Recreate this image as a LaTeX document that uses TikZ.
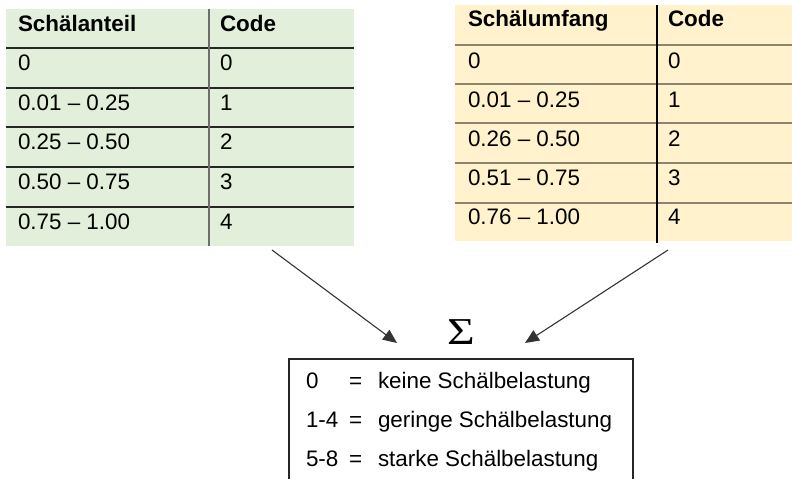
\documentclass[tikz,border=0pt]{standalone}
\usepackage{fontspec}
\setmainfont{Liberation Sans}
\newfontfamily\symserif{Liberation Serif}
\usetikzlibrary{arrows.meta}
\definecolor{greenfill}{HTML}{E2EFDA}
\definecolor{yellowfill}{HTML}{FFF2CC}
\definecolor{rulebrown}{HTML}{8C8470}
\definecolor{rulegray}{HTML}{6E6E6E}
\definecolor{arrowgray}{HTML}{333333}
\begin{document}
\begin{tikzpicture}[x=1pt,y=-1pt,
  every node/.style={inner sep=0pt,outer sep=0pt},
  txt/.style={anchor=base west,font=\fontsize{22.4}{26}\selectfont},
  hd/.style={anchor=base west,font=\fontsize{22.4}{26}\selectfont\bfseries},
  gridL/.style={line width=1.3pt,draw=black!85},
  gridR/.style={line width=1.3pt,draw=rulebrown},
  arr/.style={draw=arrowgray,line width=1.1pt,-{Triangle[length=14pt,width=12pt]}}]
\useasboundingbox (0,0) rectangle (792,479);
% left table
\node[fill=greenfill,anchor=north west,minimum width=348,minimum height=237] (tabL) at (6,9) {};
\foreach \yy in {48,88,127,167,207} \draw[gridL] (6,\yy) -- (354,\yy);
\draw[line width=1.3pt,draw=rulegray] (209,9) -- (209,246);
\node[hd] (hL1) at (18,31) {Schälanteil};
\node[hd] (hL2) at (220,31) {Code};
\node[txt] (l1a) at (18,70) {0};            \node[txt] (l1b) at (220,70) {0};
\node[txt] (l2a) at (18,110) {0.01 – 0.25}; \node[txt] (l2b) at (220,110) {1};
\node[txt] (l3a) at (18,149) {0.25 – 0.50}; \node[txt] (l3b) at (220,149) {2};
\node[txt] (l4a) at (18,189) {0.50 – 0.75}; \node[txt] (l4b) at (220,189) {3};
\node[txt] (l5a) at (18,229) {0.75 – 1.00}; \node[txt] (l5b) at (220,229) {4};
% right table
\node[fill=yellowfill,anchor=north west,minimum width=337,minimum height=236] (tabR) at (455,5) {};
\foreach \yy in {45,84,123,163,203} \draw[gridR] (455,\yy) -- (792,\yy);
\draw[line width=1.3pt,draw=black] (657,5) -- (657,243);
\node[hd] (hR1) at (468,27) {Schälumfang};
\node[hd] (hR2) at (668,27) {Code};
\node[txt] (r1a) at (468,68) {0};            \node[txt] (r1b) at (668,68) {0};
\node[txt] (r2a) at (468,107) {0.01 – 0.25}; \node[txt] (r2b) at (668,107) {1};
\node[txt] (r3a) at (468,146) {0.26 – 0.50}; \node[txt] (r3b) at (668,146) {2};
\node[txt] (r4a) at (468,185) {0.51 – 0.75}; \node[txt] (r4b) at (668,185) {3};
\node[txt] (r5a) at (468,224) {0.76 – 1.00}; \node[txt] (r5b) at (668,224) {4};
% sigma
\node[anchor=base,xscale=1.25,font=\symserif\fontsize{38}{42}\selectfont] (sig) at (461,344) {Σ};
% arrows
\coordinate (fromL) at (272,250);
\coordinate (toL) at (397,343);
\coordinate (fromR) at (668,250);
\coordinate (toR) at (525,343);
\draw[arr] (fromL) -- (toL);
\draw[arr] (fromR) -- (toR);
% result box (open at the bottom edge)
\coordinate (boxBL) at (289,479);
\coordinate (boxTR) at (633,359);
\coordinate (boxBR) at (633,479);
\draw[line width=1.3pt,draw=black!85] (boxBL) |- (boxTR) -- (boxBR);
\node[txt] (k1) at (306,388) {0};   \node[txt] (e1) at (349,388) {=}; \node[txt] (t1) at (378,388) {keine Schälbelastung};
\node[txt] (k2) at (306,427) {1-4}; \node[txt] (e2) at (349,427) {=}; \node[txt] (t2) at (378,427) {geringe Schälbelastung};
\node[txt] (k3) at (306,466) {5-8}; \node[txt] (e3) at (349,466) {=}; \node[txt] (t3) at (378,466) {starke Schälbelastung};
\end{tikzpicture}
\end{document}
